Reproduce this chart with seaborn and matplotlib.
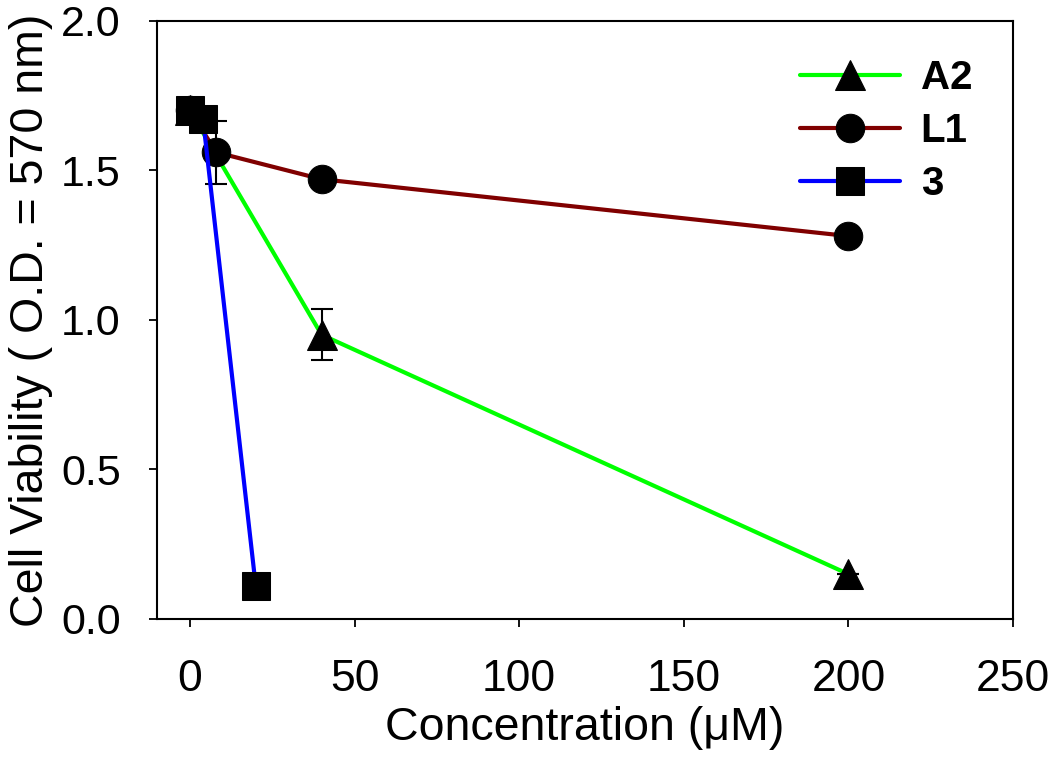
import numpy as np
import pandas as pd
import matplotlib
matplotlib.use("Agg")
import matplotlib.pyplot as plt
import seaborn as sns

# values
conc_a2 = [0, 40, 200]
viab_a2 = [1.70, 0.95, 0.15]
err_a2 = [0.0, 0.085, 0.0]

conc_l1 = [0, 8, 40, 200]
viab_l1 = [1.70, 1.56, 1.47, 1.28]
err_l1 = [0.0, 0.105, 0.0, 0.0]

conc_3 = [0, 4, 20]
viab_3 = [1.70, 1.67, 0.11]
err_3 = [0.0, 0.0, 0.0]

series = [
    ("A2", conc_a2, viab_a2, err_a2, "#00ff00", "^", 22),
    ("L1", conc_l1, viab_l1, err_l1, "#800000", "o", 20.5),
    ("3", conc_3, viab_3, err_3, "#0000ff", "s", 19.5),
]

sns.set_style("ticks")
plt.rcParams["font.family"] = ["Liberation Sans", "DejaVu Sans"]
plt.rcParams["text.color"] = "black"
plt.rcParams["axes.labelcolor"] = "black"
plt.rcParams["xtick.color"] = "black"
plt.rcParams["ytick.color"] = "black"

fig = plt.figure(figsize=(10.5, 7.57), dpi=100)
ax = fig.add_axes([0.1495, 0.1823, 0.8153, 0.7904])

for name, xs, ys, es, color, marker, ms in series:
    df = pd.DataFrame({"conc": xs, "viab": ys})
    sns.lineplot(data=df, x="conc", y="viab", ax=ax, color=color, linewidth=3,
                 marker=marker, markersize=ms, markerfacecolor="black",
                 markeredgecolor="black", label=name)
    ax.errorbar(xs, ys, yerr=es, fmt="none", ecolor="black", elinewidth=1.5,
                capsize=8, capthick=1.5, zorder=1)

ax.set_xlim(-10, 250)
ax.set_ylim(0, 2.0)
ax.set_xticks([0, 50, 100, 150, 200, 250])
ax.set_yticks([0.0, 0.5, 1.0, 1.5, 2.0])
ax.set_yticklabels(["0.0", "0.5", "1.0", "1.5", "2.0"])

for side in ["top", "right", "left", "bottom"]:
    ax.spines[side].set_visible(True)
    ax.spines[side].set_linewidth(1.5)
    ax.spines[side].set_color("black")

ax.tick_params(axis="x", direction="out", length=6, width=1.3, labelsize=32,
               pad=23, colors="black")
ax.tick_params(axis="y", direction="out", length=6, width=1.3, labelsize=31,
               pad=20, colors="black")

ax.set_xlabel("Concentration (\u03bcM)", fontsize=33.5, labelpad=4, color="black")
ax.set_ylabel("Cell Viability ( O.D. = 570 nm)", fontsize=33.5, labelpad=6,
              color="black")

leg = ax.legend(loc="upper right", frameon=False,
                prop={"weight": "bold", "size": 29},
                handlelength=2.5, handletextpad=0.5, labelspacing=0.37,
                borderaxespad=0.0, bbox_to_anchor=(0.971, 0.963))
for t in leg.get_texts():
    t.set_color("black")

fig.savefig("out.png", dpi=100)
plt.close(fig)
